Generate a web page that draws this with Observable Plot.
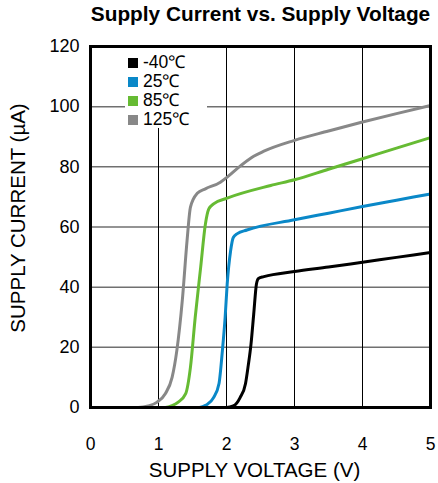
<!DOCTYPE html>
<html>
<head>
<meta charset="utf-8">
<script src="https://cdn.jsdelivr.net/npm/d3@7"></script>
<script src="https://cdn.jsdelivr.net/npm/@observablehq/plot@0.6"></script>
<style>
  body { margin: 0; background: #fff; font-family: "Liberation Sans", Arial, sans-serif; }
  #wrap { position: relative; width: 438px; height: 483px; }
  #legend { position: absolute; left: 125px; top: 48px; width: 82px; height: 80px; background: #fff; font-size: 17.5px; color: #000; }
  .row { position: absolute; left: 3px; height: 19px; line-height: 19px; white-space: nowrap; }
  .sw { display: inline-block; width: 10px; height: 10px; margin-right: 5px; vertical-align: 0px; }
</style>
</head>
<body>
<div id="wrap"></div>
<script>
const seriesNames = ["-40℃", "25℃", "85℃", "125℃"];
const seriesColors = ["#000000", "#0a88c8", "#66bb33", "#888888"];

const voltM40 = [0, 2.0, 2.1, 2.2, 2.28, 2.32, 2.36, 2.4, 2.44, 2.47, 2.55, 3, 3.5, 4, 4.5, 5];
const currM40 = [0, 0, 0.5, 3.3, 8, 14, 21, 31, 41, 42.9, 43.5, 45.2, 46.7, 48.3, 49.9, 51.5];

const volt25 = [0, 1.6, 1.7, 1.81, 1.89, 1.94, 1.98, 2.01, 2.06, 2.1, 2.16, 2.3, 3, 3.5, 4, 4.5, 5];
const curr25 = [0, 0, 0.8, 3.3, 8, 19, 30, 41, 52, 56.5, 57.8, 59, 62.4, 64.6, 66.8, 68.9, 71];

const volt85 = [0, 1.1, 1.2, 1.29, 1.4, 1.47, 1.54, 1.62, 1.69, 1.74, 1.81, 2.01, 2.65, 3, 3.5, 4, 4.5, 5];
const curr85 = [0, 0, 0.6, 1.8, 4.6, 13.4, 30, 46.6, 61, 66, 67.7, 69.6, 73.8, 75.7, 79.2, 82.7, 86.2, 89.7];

const volt125 = [0, 0.7, 0.85, 0.98, 1.1, 1.2, 1.27, 1.35, 1.42, 1.47, 1.57, 1.69, 1.91, 2.01, 2.21, 2.4, 2.55, 3, 3.5, 4, 4.5, 5];
const curr125 = [0, 0, 0.5, 1.8, 4.6, 10, 19, 35.6, 55.5, 66.6, 71.2, 72.7, 74.9, 76.6, 80.4, 83.5, 85.2, 88.8, 91.9, 94.9, 97.7, 100.4];

const xTicks = [0, 1, 2, 3, 4, 5];
const yTicks = [0, 20, 40, 60, 80, 100, 120];

const seriesV = [voltM40, volt25, volt85, volt125];
const seriesI = [currM40, curr25, curr85, curr125];
const data = [];
seriesNames.forEach((name, k) => {
  seriesV[k].forEach((v, i) => data.push({ series: name, v, i: seriesI[k][i] }));
});

const chart = Plot.plot({
  width: 438,
  height: 483,
  marginTop: 46,
  marginLeft: 90,
  marginRight: 8,
  marginBottom: 76,
  style: { fontFamily: "'Liberation Sans', Arial, sans-serif", fontSize: "16px", color: "#000", background: "#fff" },
  x: { domain: [0, 5] },
  y: { domain: [0, 120] },
  color: { domain: seriesNames, range: seriesColors },
  marks: [
    Plot.gridY(yTicks, { stroke: "#707070", strokeOpacity: 1, strokeWidth: 1.5 }),
    Plot.gridX(xTicks, { stroke: "#000", strokeOpacity: 1, strokeWidth: 1 }),
    Plot.line(data, { x: "v", y: "i", z: "series", stroke: "series", strokeWidth: 3, curve: "monotone-x" }),
    Plot.frame({ stroke: "#000", strokeWidth: 3 }),
    Plot.axisX(xTicks, { tickSize: 0, tickPadding: 30, label: null, fontSize: 17.5 }),
    Plot.axisY(yTicks, { tickSize: 0, tickPadding: 11, label: null, fontSize: 18 }),
    Plot.text(["SUPPLY VOLTAGE (V)"], { frameAnchor: "bottom", dy: 69, dx: -6, fontSize: 20.5 }),
    Plot.text(["SUPPLY CURRENT (µA)"], { frameAnchor: "left", textAnchor: "middle", lineAnchor: "middle", rotate: -90, dx: -72, dy: -9, fontSize: 20.5 }),
    Plot.text(["Supply Current vs. Supply Voltage"], { frameAnchor: "top", dy: -40, fontSize: 20.8, fontWeight: "bold" })
  ]
});

const wrap = document.getElementById("wrap");
wrap.appendChild(chart);
const legend = document.createElement("div");
legend.id = "legend";
const rowTops = [5, 24, 43, 62];
seriesNames.forEach((name, k) => {
  const row = document.createElement("div");
  row.className = "row";
  row.style.top = rowTops[k] + "px";
  const sw = document.createElement("span");
  sw.className = "sw";
  sw.style.background = seriesColors[k];
  row.appendChild(sw);
  row.appendChild(document.createTextNode(name));
  legend.appendChild(row);
});
wrap.appendChild(legend);
</script>
</body>
</html>
